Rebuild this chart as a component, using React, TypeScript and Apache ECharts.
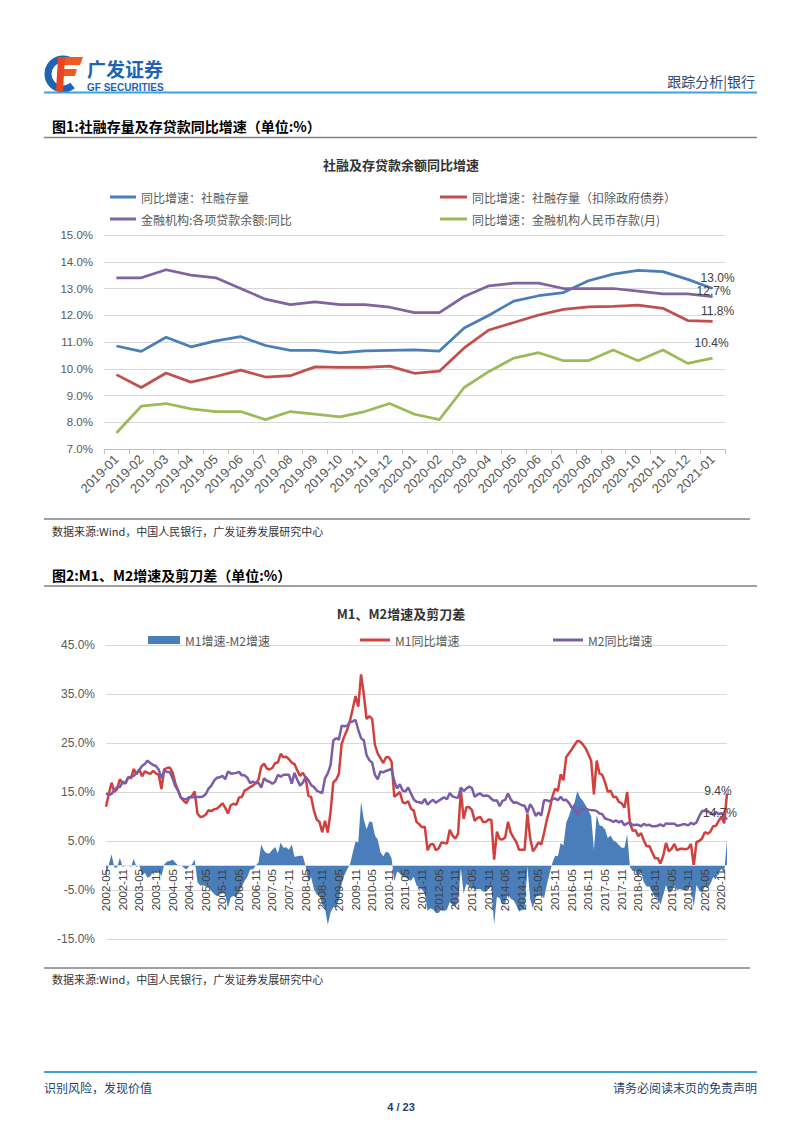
import React, { useEffect, useRef } from "react";
import * as echarts from "echarts";

const FONT = '"Liberation Sans", "Noto Sans CJK SC", sans-serif';
const CJK = '"Noto Sans CJK SC", "Liberation Sans", sans-serif';

// ---------- Chart 1 data ----------
const months1 = [
  "2019-01", "2019-02", "2019-03", "2019-04", "2019-05", "2019-06", "2019-07",
  "2019-08", "2019-09", "2019-10", "2019-11", "2019-12", "2020-01", "2020-02",
  "2020-03", "2020-04", "2020-05", "2020-06", "2020-07", "2020-08", "2020-09",
  "2020-10", "2020-11", "2020-12", "2021-01",
];
const tsfStock = [
  10.85, 10.65, 11.18, 10.82, 11.04, 11.2, 10.87, 10.69, 10.69, 10.59, 10.67, 10.69,
  10.71, 10.66, 11.52, 12.0, 12.53, 12.73, 12.85, 13.29, 13.54, 13.68, 13.63, 13.34, 13.0,
];
const tsfExGov = [
  9.78, 9.3, 9.84, 9.5, 9.71, 9.95, 9.69, 9.74, 10.07, 10.05, 10.05, 10.1,
  9.83, 9.91, 10.78, 11.45, 11.73, 12.01, 12.22, 12.31, 12.33, 12.38, 12.26, 11.8, 11.77,
];
const loanGrowth = [
  13.4, 13.4, 13.7, 13.5, 13.4, 13.0, 12.6, 12.4, 12.5, 12.4, 12.4, 12.3,
  12.1, 12.1, 12.7, 13.1, 13.2, 13.2, 13.0, 13.0, 13.0, 12.9, 12.8, 12.8, 12.7,
];
const depositGrowth = [
  7.6, 8.6, 8.7, 8.5, 8.4, 8.4, 8.1, 8.4, 8.3, 8.2, 8.4, 8.7,
  8.3, 8.1, 9.3, 9.9, 10.4, 10.6, 10.3, 10.3, 10.7, 10.3, 10.7, 10.2, 10.4,
];
const names1 = [
  "同比增速：社融存量",
  "同比增速：社融存量（扣除政府债券）",
  "金融机构:各项贷款余额:同比",
  "同比增速：金融机构人民币存款(月)",
];

// ---------- Chart 2 data (2002-05 .. 2021-01, monthly) ----------
const m1Growth = [
  12.0, 14.6, 16.9, 15.0, 15.6, 17.6, 16.8, 16.8,
  18.0, 17.8, 19.7, 18.6, 19.6, 18.2, 19.2, 18.9, 18.7, 19.3, 18.8, 18.5,
  15.6, 19.6, 19.9, 20.0, 19.0, 16.8, 15.3, 13.9, 13.2, 12.7, 13.8, 14.2,
  15.1, 10.6, 9.9, 10.0, 10.4, 11.3, 11.1, 11.5, 11.6, 12.1, 12.7, 11.8,
  10.6, 12.3, 12.6, 12.4, 13.9, 14.0, 15.3, 15.6, 16.0, 16.3, 16.8, 17.5,
  20.2, 20.8, 19.8, 19.6, 19.9, 20.9, 21.0, 22.8, 22.1, 22.2, 21.7, 21.0,
  20.7, 19.4, 18.3, 18.9, 18.0, 14.2, 14.0, 11.2, 9.4, 8.9, 6.8, 9.1,
  6.7, 10.9, 17.0, 17.5, 18.7, 24.8, 26.4, 27.7, 29.5, 32.0, 34.6, 32.4,
  39.0, 34.9, 29.9, 30.5, 29.9, 24.6, 22.9, 21.9, 20.9, 22.1, 22.1, 21.2,
  14.0, 14.5, 15.0, 12.9, 12.7, 13.1, 11.6, 11.2, 8.9, 8.4, 7.8, 7.9,
  3.1, 4.3, 4.4, 3.1, 3.5, 4.7, 4.6, 4.5, 7.3, 6.1, 5.5, 6.5,
  15.3, 9.5, 11.9, 11.9, 11.3, 9.1, 9.7, 9.9, 8.9, 8.9, 9.4, 9.3,
  1.2, 6.9, 5.4, 5.3, 5.7, 8.9, 6.7, 5.7, 4.8, 3.2, 3.2, 3.2,
  10.6, 5.6, 2.9, 3.7, 4.7, 4.3, 6.6, 9.3, 11.4, 14.0, 15.7, 15.2,
  18.6, 17.4, 22.1, 22.9, 23.7, 24.6, 25.4, 25.3, 24.7, 23.9, 22.7, 21.4,
  14.5, 21.4, 18.8, 18.5, 17.0, 15.0, 15.3, 14.0, 14.0, 13.0, 12.7, 11.8,
  15.0, 8.5, 7.1, 7.2, 6.0, 6.6, 5.1, 3.9, 4.0, 2.7, 1.5, 1.5,
  0.4, 2.0, 4.6, 2.9, 3.4, 4.4, 3.1, 3.4, 3.4, 3.3, 3.5, 4.4,
  0.0, 4.8, 5.0, 5.5, 6.8, 6.5, 6.9, 8.0, 8.1, 9.1, 10.0, 8.6,
  14.7,
];
const m2Growth = [
  14.7, 14.4, 14.6, 15.4, 16.0, 16.0, 17.1, 16.8,
  17.9, 18.1, 18.3, 18.9, 19.5, 20.3, 20.7, 21.4, 20.9, 20.5, 20.3, 19.6,
  17.8, 19.4, 19.1, 19.1, 17.8, 16.2, 15.3, 13.8, 13.6, 13.5, 13.9, 14.0,
  13.9, 14.0, 14.0, 14.1, 14.6, 15.7, 16.3, 17.3, 17.9, 18.0, 18.3, 17.6,
  19.2, 18.8, 18.8, 18.9, 19.1, 18.4, 18.4, 17.9, 16.8, 17.1, 16.8, 16.9,
  15.9, 17.8, 17.3, 17.1, 16.7, 17.1, 18.5, 18.1, 18.5, 18.5, 18.5, 16.7,
  18.9, 17.5, 16.3, 16.9, 18.1, 17.4, 16.4, 16.0, 15.3, 15.0, 14.8, 17.8,
  18.8, 20.5, 25.5, 26.0, 25.7, 28.5, 28.4, 28.5, 29.3, 29.4, 29.7, 27.7,
  26.0, 25.5, 22.5, 21.5, 21.0, 18.5, 17.6, 19.2, 19.0, 19.3, 19.5, 19.7,
  17.2, 15.7, 16.6, 15.3, 15.1, 15.9, 14.7, 13.5, 13.0, 12.9, 12.7, 13.6,
  12.4, 13.0, 13.4, 12.8, 13.2, 13.6, 13.9, 13.5, 14.8, 14.1, 13.9, 13.8,
  15.9, 15.2, 15.7, 16.1, 15.8, 14.0, 14.5, 14.7, 14.2, 14.3, 14.2, 13.6,
  13.2, 13.3, 12.1, 13.2, 13.4, 14.7, 13.5, 12.8, 12.9, 12.6, 12.3, 12.2,
  10.8, 12.5, 11.6, 10.1, 10.8, 10.2, 13.3, 13.3, 13.1, 13.5, 13.7, 13.3,
  14.0, 13.3, 13.4, 12.8, 11.8, 11.8, 10.2, 11.4, 11.5, 11.6, 11.4, 11.3,
  11.3, 11.1, 10.6, 10.5, 9.6, 9.4, 9.2, 8.9, 9.2, 8.8, 9.1, 8.2,
  8.6, 8.8, 8.2, 8.3, 8.3, 8.0, 8.5, 8.2, 8.3, 8.0, 8.0, 8.1,
  8.4, 8.0, 8.6, 8.5, 8.5, 8.5, 8.1, 8.2, 8.4, 8.4, 8.2, 8.7,
  8.4, 8.8, 10.1, 11.1, 11.1, 11.1, 10.7, 10.4, 10.9, 10.5, 10.7, 10.1,
  9.4,
];
const months2: string[] = (() => {
  const out: string[] = [];
  let y = 2002;
  let m = 5;
  while (y < 2021 || (y === 2021 && m <= 1)) {
    out.push(`${y}-${String(m).padStart(2, "0")}`);
    m++;
    if (m > 12) {
      m = 1;
      y++;
    }
  }
  return out;
})();
const spread = m1Growth.map((v, i) => Math.round((v - m2Growth[i]) * 10) / 10);
const names2 = ["M1增速-M2增速", "M1同比增速", "M2同比增速"];

const yTicks1 = { min: 7, max: 15, step: 1 };
const yTicks2 = { min: -15, max: 45, step: 10 };

const pct = (v: number) => v.toFixed(1) + "%";

function endMark(cats: string[], vals: number[], offset: number[]) {
  const i = vals.length - 1;
  return {
    symbol: "circle",
    symbolSize: 1,
    silent: true,
    itemStyle: { color: "rgba(0,0,0,0)" },
    label: {
      show: true,
      position: "inside",
      offset,
      formatter: () => pct(vals[i]),
      color: "#404040",
      fontSize: 12,
      fontFamily: FONT,
    },
    data: [{ coord: [cats[i], vals[i]], value: vals[i] }],
  };
}

function lineSeries(name: string, data: number[], color: string, xi: number, width: number, mark?: any) {
  return {
    name,
    type: "line",
    xAxisIndex: xi,
    yAxisIndex: xi,
    data,
    showSymbol: false,
    symbol: "none",
    itemStyle: { color },
    lineStyle: { color, width },
    markPoint: mark,
  };
}

function txt(text: string, x: number, y: number, size: number, fill: string, opts: any = {}) {
  return {
    type: "text",
    x,
    y,
    silent: true,
    style: {
      text,
      fill,
      fontSize: size,
      fontFamily: opts.family || CJK,
      fontWeight: opts.weight || "normal",
      align: opts.align || "left",
      textAlign: opts.align || "left",
      verticalAlign: "middle",
      textVerticalAlign: "middle",
    },
  };
}

function hline(x1: number, x2: number, y: number, stroke: string, w: number) {
  return {
    type: "line",
    silent: true,
    shape: { x1, y1: y, x2, y2: y },
    style: { stroke, lineWidth: w },
  };
}

export default function App() {
  const ref = useRef<HTMLDivElement>(null);

  useEffect(() => {
    if (!ref.current) return;
    const chart = echarts.init(ref.current, undefined, { renderer: "svg" });

    const legendText = { fontSize: 12, color: "#595959", fontFamily: CJK, lineHeight: 14 };

    const option: any = {
      animation: false,
      backgroundColor: "#ffffff",
      title: [
        {
          text: "社融及存贷款余额同比增速",
          left: "center",
          top: 153,
          textStyle: { fontSize: 13, fontWeight: "bold", color: "#333333", fontFamily: CJK },
        },
        {
          text: "M1、M2增速及剪刀差",
          left: "center",
          top: 602,
          textStyle: { fontSize: 13, fontWeight: "bold", color: "#333333", fontFamily: CJK },
        },
      ],
      legend: [
        {
          data: [names1[0], names1[2]],
          orient: "vertical",
          left: 105,
          top: 185,
          icon: "rect",
          itemWidth: 26,
          itemHeight: 3,
          itemGap: 8,
          textStyle: legendText,
        },
        {
          data: [names1[1], names1[3]],
          orient: "vertical",
          left: 435,
          top: 185,
          icon: "rect",
          itemWidth: 27,
          itemHeight: 3,
          itemGap: 8,
          textStyle: legendText,
        },
        {
          data: [names2[0]],
          left: 143,
          top: 628,
          icon: "rect",
          itemWidth: 32,
          itemHeight: 8,
          textStyle: legendText,
        },
        {
          data: [names2[1]],
          left: 355,
          top: 628,
          icon: "rect",
          itemWidth: 30,
          itemHeight: 3,
          textStyle: legendText,
        },
        {
          data: [names2[2]],
          left: 548,
          top: 628,
          icon: "rect",
          itemWidth: 30,
          itemHeight: 3,
          textStyle: legendText,
        },
      ],
      grid: [
        { left: 104, top: 235, width: 621, height: 214 },
        { left: 106, top: 645, width: 621, height: 294 },
      ],
      xAxis: [
        {
          type: "category",
          gridIndex: 0,
          data: months1,
          boundaryGap: true,
          axisLine: { lineStyle: { color: "#bfbfbf", width: 1 } },
          axisTick: { show: true, length: 5, lineStyle: { color: "#bfbfbf" } },
          axisLabel: {
            rotate: 45,
            interval: 0,
            fontSize: 13,
            color: "#595959",
            fontFamily: FONT,
            margin: 8,
          },
          splitLine: { show: false },
        },
        {
          type: "category",
          gridIndex: 1,
          data: months2,
          boundaryGap: false,
          z: 5,
          axisLine: { show: false, onZero: false },
          axisTick: { show: false },
          axisLabel: {
            rotate: 90,
            interval: 5,
            fontSize: 11.5,
            color: "#404040",
            fontFamily: FONT,
            margin: -70,
          },
          splitLine: { show: false },
        },
      ],
      yAxis: [
        {
          type: "value",
          gridIndex: 0,
          min: yTicks1.min,
          max: yTicks1.max,
          interval: yTicks1.step,
          axisLine: { show: false },
          axisTick: { show: false },
          axisLabel: { formatter: pct, fontSize: 11.5, color: "#595959", fontFamily: FONT, margin: 11 },
          splitLine: { lineStyle: { color: "#d9d9d9", width: 1 } },
        },
        {
          type: "value",
          gridIndex: 1,
          min: yTicks2.min,
          max: yTicks2.max,
          interval: yTicks2.step,
          axisLine: { show: false },
          axisTick: { show: false },
          axisLabel: { formatter: pct, fontSize: 12, color: "#595959", fontFamily: FONT, margin: 11 },
          splitLine: { lineStyle: { color: "#d9d9d9", width: 1 } },
        },
      ],
      series: [
        lineSeries(names1[0], tsfStock, "#4a7ebb", 0, 2.75, endMark(months1, tsfStock, [5, -11])),
        lineSeries(names1[1], tsfExGov, "#c0504d", 0, 2.75, endMark(months1, tsfExGov, [5, -10])),
        lineSeries(names1[2], loanGrowth, "#8064a2", 0, 2.75, endMark(months1, loanGrowth, [1, -6])),
        lineSeries(names1[3], depositGrowth, "#9bbb59", 0, 2.75, endMark(months1, depositGrowth, [-1, -15])),
        {
          name: names2[0],
          type: "line",
          xAxisIndex: 1,
          yAxisIndex: 1,
          data: spread,
          showSymbol: false,
          symbol: "none",
          itemStyle: { color: "#4a7ebb" },
          lineStyle: { width: 0, color: "#4a7ebb" },
          areaStyle: { color: "#4a7ebb", opacity: 1 },
          markLine: {
            silent: true,
            symbol: "none",
            label: { show: false },
            lineStyle: { color: "#d9d9d9", width: 1, type: "solid" },
            data: [{ yAxis: 0 }],
          },
        },
        lineSeries(names2[1], m1Growth, "#d0413e", 1, 2.5, endMark(months2, m1Growth, [-7, 20])),
        lineSeries(names2[2], m2Growth, "#7a5ca8", 1, 2.5, endMark(months2, m2Growth, [-9, -28])),
      ],
      graphic: [
        // logo
        {
          type: "arc",
          silent: true,
          shape: { cx: 63, cy: 74, r: 15, startAngle: Math.PI * 0.28, endAngle: Math.PI * 1.72, clockwise: true },
          style: { stroke: "#1f64b4", lineWidth: 7, fill: "none" },
        },
        {
          type: "polygon",
          silent: true,
          shape: { points: [[60, 57], [83, 57], [80, 65], [58, 65]] },
          style: { fill: "#ef5a24" },
        },
        {
          type: "polygon",
          silent: true,
          shape: { points: [[60, 69], [77, 69], [75, 76], [58, 76]] },
          style: { fill: "#ef5a24" },
        },
        {
          type: "polygon",
          silent: true,
          shape: { points: [[58, 57], [65, 57], [63, 91], [56, 91]] },
          style: { fill: "#e8461f" },
        },
        txt("广发证券", 87, 68.5, 19, "#1f64b4", { weight: "bold" }),
        txt("GF SECURITIES", 87, 87.5, 10, "#1f64b4", { weight: "bold", family: FONT }),
        txt("跟踪分析|银行", 755, 81, 14, "#2b4a72", { align: "right" }),
        hline(44, 757, 92.5, "#3ea2d8", 2),
        // section 1
        txt("图1:社融存量及存贷款同比增速（单位:%）", 52, 126, 14, "#000000", { weight: "bold" }),
        hline(44, 757, 137.5, "#808080", 1.5),
        hline(44, 750, 519, "#808080", 1.5),
        txt("数据来源:Wind，中国人民银行，广发证券发展研究中心", 52, 531, 11, "#333333"),
        // section 2
        txt("图2:M1、M2增速及剪刀差（单位:%）", 52, 575, 14, "#000000", { weight: "bold" }),
        hline(44, 757, 586, "#808080", 1.5),
        hline(44, 750, 968, "#808080", 1.5),
        txt("数据来源:Wind，中国人民银行，广发证券发展研究中心", 52, 979, 11, "#333333"),
        // footer
        hline(44, 757, 1072, "#3ea2d8", 2),
        txt("识别风险，发现价值", 44, 1087, 12, "#1f3f6e"),
        txt("请务必阅读末页的免责声明", 757, 1087, 12, "#1f3f6e", { align: "right" }),
        txt("4 / 23", 401, 1107, 11, "#1f3f6e", { align: "center", weight: "bold", family: FONT }),
      ],
    };

    chart.setOption(option);
    return () => chart.dispose();
  }, []);

  return (
    <div
      ref={ref}
      style={{ position: "absolute", left: 0, top: 0, width: 802, height: 1133, background: "#ffffff" }}
    />
  );
}
